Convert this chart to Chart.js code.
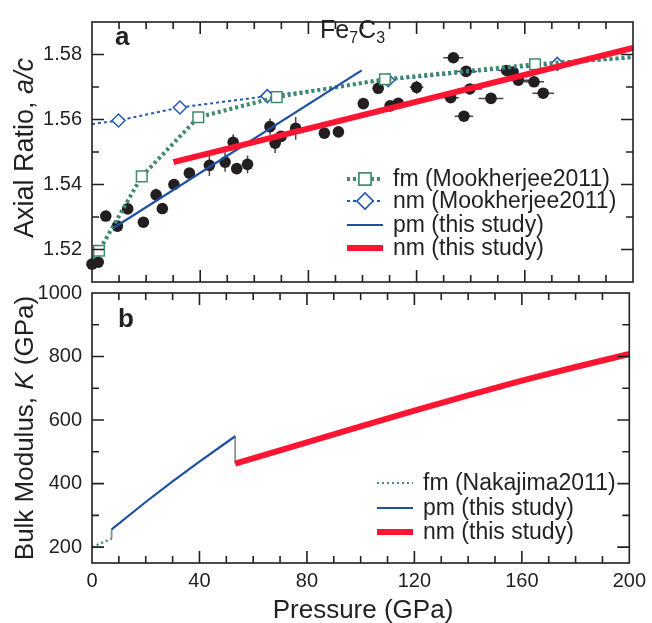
<!DOCTYPE html>
<html>
<head>
<meta charset="utf-8">
<script src="https://cdn.jsdelivr.net/npm/chart.js@4.4.1/dist/chart.umd.min.js"></script>
<style>
  html, body { margin: 0; padding: 0; background: #fff; }
  #wrap { position: relative; width: 652px; height: 623px; }
  #wrap canvas { position: absolute; left: 0; top: 0; }
</style>
</head>
<body>
<div id="wrap">
  <canvas id="axialChart" width="652" height="623"></canvas>
  <canvas id="bulkChart" width="652" height="623"></canvas>
</div>
<script>
"use strict";
const INK = '#231f20';
const GREEN = '#3e8a6c';
const BLUE_DOT = '#2458b2';
const BLUE = '#1f4fa3';
const RED = '#ff1431';
const GRAY = '#8e8e8e';
const FONT = '"Liberation Sans", Arial, Helvetica, sans-serif';

// ---- panel a: axial ratio a/c ----
// experiment (black dots)
const expPressure = [0.0, 2.3, 5.1, 9.4, 13.2, 19.0, 23.7, 26.0, 30.3, 36.0, 43.4, 49.2, 52.2, 53.5, 57.5,
  65.8, 67.7, 69.9, 75.3, 85.9, 91.1, 100.3, 105.8, 110.2, 113.2, 120.0, 132.6, 133.6, 137.5, 138.3,
  139.7, 147.5, 153.3, 155.7, 157.6, 163.4, 166.8];
const expRatio = [1.5155, 1.5161, 1.5303, 1.5272, 1.5325, 1.5284, 1.5368, 1.5326, 1.5400, 1.5435, 1.5459, 1.5469, 1.5530, 1.5449, 1.5462,
  1.5578, 1.5527, 1.5548, 1.5573, 1.5558, 1.5562, 1.5649, 1.5696, 1.5642, 1.5650, 1.5699, 1.5667, 1.5790, 1.5610, 1.5748,
  1.5694, 1.5665, 1.5751, 1.5746, 1.5721, 1.5716, 1.5681];
const expPressureErr = [0, 0, 0, 0, 0, 0, 0, 0, 0, 0, 0, 0, 0, 0, 0,
  0, 0, 0, 0, 0, 0, 0, 0, 0, 2.5, 2.5, 3, 3.7, 3.4, 4,
  4.5, 4.6, 3, 0, 4, 3.7, 4];
const expRatioErr = [0, 0, 0, 0, 0, 0, 0.002, 0, 0, 0, 0.0033, 0.003, 0.0025, 0, 0.0027,
  0.0025, 0.003, 0, 0.0035, 0, 0, 0, 0.001, 0, 0, 0.002, 0, 0, 0, 0,
  0, 0, 0, 0, 0, 0, 0];

const fmMookPressure = [0, 2.6, 18.4, 39.3, 68.3, 108.3, 163.8, 200];
const fmMookRatio = [1.5173, 1.5196, 1.5425, 1.5607, 1.5669, 1.5724, 1.5770, 1.5792];
const nmMookPressure = [0, 9.8, 32.5, 64.8, 109.5, 172.0, 200];
const nmMookRatio = [1.5586, 1.5597, 1.5637, 1.5672, 1.5721, 1.5771, 1.5790];
const pmStudyPressure = [7.9, 99.7];
const pmStudyRatio = [1.5266, 1.5751];
const nmStudyPressure = [30.1, 200];
const nmStudyRatio = [1.5469, 1.5820];

// ---- panel b: bulk modulus K ----
const fmNakPressure = [0, 7.3];
const fmNakK = [200, 227];
const pmKPressure = [7.3, 20, 30, 40, 53.3];
const pmK = [256, 342, 407, 469, 549];
const nmKPressure = [53.3, 80, 100, 120, 140, 160, 180, 200];
const nmK = [463, 530, 580, 630, 678, 724, 767, 808];
const jumpLowPressure = [7.3, 7.3];
const jumpLowK = [227, 256];
const jumpHighPressure = [53.3, 53.3];
const jumpHighK = [549, 463];

// ---- ticks ----
const pressureTicks = [0, 10, 20, 30, 40, 50, 60, 70, 80, 90, 100, 110, 120, 130, 140, 150, 160, 170, 180, 190, 200];
const pressureLabels = [0, 40, 80, 120, 160, 200];
const ratioTicks = [1.52, 1.53, 1.54, 1.55, 1.56, 1.57, 1.58];
const ratioLabels = [1.52, 1.54, 1.56, 1.58];
const bulkTicks = [200, 300, 400, 500, 600, 700, 800, 900, 1000];
const bulkLabels = [200, 400, 600, 800, 1000];

function pts(xs, ys) {
  return xs.map(function (x, i) { return { x: x, y: ys[i] }; });
}

function drawRich(ctx, parts, x, y, align) {
  let total = 0;
  parts.forEach(function (p) { ctx.font = p.font; total += ctx.measureText(p.text).width; });
  let cx = align === 'center' ? x - total / 2 : x;
  ctx.textAlign = 'left';
  parts.forEach(function (p) {
    ctx.font = p.font;
    ctx.fillText(p.text, cx, y + (p.dy || 0));
    cx += ctx.measureText(p.text).width;
  });
}

function drawFrame(chart) {
  const ctx = chart.ctx, a = chart.chartArea;
  const xs = chart.scales.x, ys = chart.scales.y;
  ctx.save();
  ctx.strokeStyle = INK;
  ctx.lineWidth = 1.6;
  ctx.beginPath();
  xs.ticks.forEach(function (t) {
    const px = xs.getPixelForValue(t.value);
    if (px < a.left + 1 || px > a.right - 1) return;
    const len = t.label !== '' ? 12 : 7;
    ctx.moveTo(px, a.bottom); ctx.lineTo(px, a.bottom - len);
    ctx.moveTo(px, a.top); ctx.lineTo(px, a.top + len);
  });
  ys.ticks.forEach(function (t) {
    const py = ys.getPixelForValue(t.value);
    if (py < a.top + 1 || py > a.bottom - 1) return;
    const len = t.label !== '' ? 12 : 7;
    ctx.moveTo(a.left, py); ctx.lineTo(a.left + len, py);
    ctx.moveTo(a.right, py); ctx.lineTo(a.right - len, py);
  });
  ctx.stroke();
  ctx.strokeRect(a.left, a.top, a.right - a.left, a.bottom - a.top);
  ctx.restore();
}

function drawKey(chart, key) {
  const ctx = chart.ctx;
  ctx.save();
  key.labels.forEach(function (label, i) {
    const ds = chart.data.datasets.find(function (d) { return d.label === label; });
    const y = key.ys[i];
    ctx.strokeStyle = ds.borderColor;
    ctx.lineWidth = key.widths ? key.widths[i] : ds.borderWidth;
    ctx.setLineDash(ds.borderDash || []);
    ctx.beginPath();
    ctx.moveTo(key.x0, y);
    ctx.lineTo(key.x1, y);
    ctx.stroke();
    ctx.setLineDash([]);
    if (ds.keyMarker) {
      const cx = (key.x0 + key.x1) / 2;
      ctx.fillStyle = '#fff';
      ctx.strokeStyle = ds.pointBorderColor;
      ctx.lineWidth = 1.5;
      Chart.helpers.drawPoint(ctx, { pointStyle: ds.pointStyle, radius: ds.keyMarker, borderWidth: 1.5 }, cx, y);
      ctx.fill();
      ctx.stroke();
    }
    ctx.fillStyle = INK;
    ctx.font = '23px ' + FONT;
    ctx.textBaseline = 'middle';
    ctx.textAlign = 'left';
    ctx.fillText(label, key.xText, y + 1);
  });
  ctx.restore();
}

function overlay(spec) {
  return {
    id: 'overlay',
    beforeDatasetDraw: function (chart, args) {
      const ds = chart.data.datasets[args.index];
      if (!ds.errX) return;
      const ctx = chart.ctx, xs = chart.scales.x, ys = chart.scales.y;
      ctx.save();
      ctx.strokeStyle = '#4a4546';
      ctx.lineWidth = 1.5;
      ctx.beginPath();
      ds.data.forEach(function (p, i) {
        if (ds.errX[i] > 0) {
          ctx.moveTo(xs.getPixelForValue(p.x - ds.errX[i]), ys.getPixelForValue(p.y));
          ctx.lineTo(xs.getPixelForValue(p.x + ds.errX[i]), ys.getPixelForValue(p.y));
        }
        if (ds.errY[i] > 0) {
          ctx.moveTo(xs.getPixelForValue(p.x), ys.getPixelForValue(p.y - ds.errY[i]));
          ctx.lineTo(xs.getPixelForValue(p.x), ys.getPixelForValue(p.y + ds.errY[i]));
        }
      });
      ctx.stroke();
      ctx.restore();
    },
    afterDraw: function (chart) {
      drawFrame(chart);
      const ctx = chart.ctx;
      ctx.save();
      ctx.fillStyle = INK;
      ctx.textBaseline = 'alphabetic';
      spec.texts.forEach(function (t) {
        ctx.save();
        ctx.translate(t.x, t.y);
        if (t.rotate) ctx.rotate(-Math.PI / 2);
        drawRich(ctx, t.parts, 0, 0, t.align);
        ctx.restore();
      });
      ctx.restore();
      drawKey(chart, spec.key);
    }
  };
}

function xScale(showLabels, height) {
  return {
    type: 'linear', min: 0, max: 200,
    afterBuildTicks: function (s) { s.ticks = pressureTicks.map(function (v) { return { value: v }; }); },
    afterFit: function (s) { s.height = height; },
    grid: { display: false, drawTicks: false },
    border: { display: false },
    ticks: {
      display: showLabels, autoSkip: false, maxRotation: 0, padding: 6,
      color: INK, font: { family: FONT, size: 20 },
      callback: function (v) { return pressureLabels.indexOf(v) >= 0 ? String(v) : ''; }
    }
  };
}

const axialCfg = {
  type: 'line',
  data: {
    datasets: [
      { label: 'nm (this study)', data: pts(nmStudyPressure, nmStudyRatio), borderColor: RED, borderWidth: 6, pointRadius: 0 },
      { label: 'pm (this study)', data: pts(pmStudyPressure, pmStudyRatio), borderColor: BLUE, borderWidth: 2.2, pointRadius: 0 },
      {
        label: 'fm (Mookherjee2011)', data: pts(fmMookPressure, fmMookRatio),
        borderColor: GREEN, borderWidth: 4, borderDash: [3, 3],
        pointStyle: 'rect', keyMarker: 8.5,
        pointRadius: fmMookPressure.map(function (p, i) { return (i === 0 || i === fmMookPressure.length - 1) ? 0 : 7.5; }),
        pointBackgroundColor: '#fff', pointBorderColor: GREEN, pointBorderWidth: 1.5
      },
      {
        label: 'nm (Mookherjee2011)', data: pts(nmMookPressure, nmMookRatio),
        borderColor: BLUE_DOT, borderWidth: 2, borderDash: [3, 3],
        pointStyle: 'rectRot', keyMarker: 8,
        pointRadius: nmMookPressure.map(function (p, i) { return (i === 0 || i === nmMookPressure.length - 1) ? 0 : 6.5; }),
        pointBackgroundColor: '#fff', pointBorderColor: BLUE_DOT, pointBorderWidth: 1.5
      },
      {
        label: 'expt', data: pts(expPressure, expRatio), showLine: false, order: 10, clip: false,
        pointRadius: 5.8, pointBackgroundColor: INK, pointBorderColor: INK, pointBorderWidth: 0,
        errX: expPressureErr, errY: expRatioErr
      }
    ]
  },
  options: {
    responsive: false, animation: false, devicePixelRatio: 1, events: [],
    layout: { padding: { top: 10, right: 19, bottom: 333, left: 0 } },
    plugins: { legend: { display: false }, tooltip: { enabled: false } },
    scales: {
      x: xScale(false, 8),
      y: {
        type: 'linear', min: 1.51, max: 1.59,
        afterBuildTicks: function (s) { s.ticks = ratioTicks.map(function (v) { return { value: v }; }); },
        afterFit: function (s) { s.width = 92; },
        grid: { display: false, drawTicks: false },
        border: { display: false },
        ticks: {
          padding: 10, color: INK, font: { family: FONT, size: 20 },
          callback: function (v) { return ratioLabels.indexOf(v) >= 0 ? v.toFixed(2) : ''; }
        }
      }
    }
  },
  plugins: [overlay({
    texts: [
      { x: 33, y: 148, rotate: true, align: 'center', parts: [
        { text: 'Axial Ratio, ', font: '27px ' + FONT },
        { text: 'a/c', font: 'italic 27px ' + FONT }] },
      { x: 115, y: 45, align: 'left', parts: [{ text: 'a', font: 'bold 26px ' + FONT }] },
      { x: 320, y: 38, align: 'left', parts: [
        { text: 'Fe', font: '25px ' + FONT },
        { text: '7', font: '16px ' + FONT, dy: 5 },
        { text: 'C', font: '25px ' + FONT },
        { text: '3', font: '16px ' + FONT, dy: 5 }] }
    ],
    key: {
      x0: 347, x1: 383, xText: 393, ys: [179, 201, 225, 248],
      labels: ['fm (Mookherjee2011)', 'nm (Mookherjee2011)', 'pm (this study)', 'nm (this study)']
    }
  })]
};

const bulkCfg = {
  type: 'line',
  data: {
    datasets: [
      { label: 'nm (this study)', data: pts(nmKPressure, nmK), borderColor: RED, borderWidth: 6, pointRadius: 0 },
      { label: 'pm (this study)', data: pts(pmKPressure, pmK), borderColor: BLUE, borderWidth: 2.2, pointRadius: 0 },
      { label: 'fm (Nakajima2011)', data: pts(fmNakPressure, fmNakK), borderColor: GREEN, borderWidth: 2.5, borderDash: [2, 3], pointRadius: 0 },
      { label: 'jump low', data: pts(jumpLowPressure, jumpLowK), borderColor: GRAY, borderWidth: 1.8, pointRadius: 0 },
      { label: 'jump high', data: pts(jumpHighPressure, jumpHighK), borderColor: GRAY, borderWidth: 1.8, pointRadius: 0 }
    ]
  },
  options: {
    responsive: false, animation: false, devicePixelRatio: 1, events: [],
    layout: { padding: { top: 293, right: 19, bottom: 0, left: 0 } },
    plugins: { legend: { display: false }, tooltip: { enabled: false } },
    scales: {
      x: xScale(true, 60),
      y: {
        type: 'linear', min: 150, max: 1000,
        afterBuildTicks: function (s) { s.ticks = bulkTicks.map(function (v) { return { value: v }; }); },
        afterFit: function (s) { s.width = 92; },
        grid: { display: false, drawTicks: false },
        border: { display: false },
        ticks: {
          padding: 10, color: INK, font: { family: FONT, size: 20 },
          callback: function (v) { return bulkLabels.indexOf(v) >= 0 ? String(v) : ''; }
        }
      }
    }
  },
  plugins: [overlay({
    texts: [
      { x: 33, y: 428, rotate: true, align: 'center', parts: [
        { text: 'Bulk Modulus, ', font: '26px ' + FONT },
        { text: 'K', font: 'italic 26px ' + FONT },
        { text: ' (GPa)', font: '26px ' + FONT }] },
      { x: 118, y: 327, align: 'left', parts: [{ text: 'b', font: 'bold 26px ' + FONT }] },
      { x: 363, y: 618, align: 'center', parts: [{ text: 'Pressure (GPa)', font: '26px ' + FONT }] }
    ],
    key: {
      x0: 377, x1: 413, xText: 423, ys: [483, 508, 532], widths: [2, 2.2, 6],
      labels: ['fm (Nakajima2011)', 'pm (this study)', 'nm (this study)']
    }
  })]
};

new Chart(document.getElementById('axialChart'), axialCfg);
new Chart(document.getElementById('bulkChart'), bulkCfg);
</script>
</body>
</html>
